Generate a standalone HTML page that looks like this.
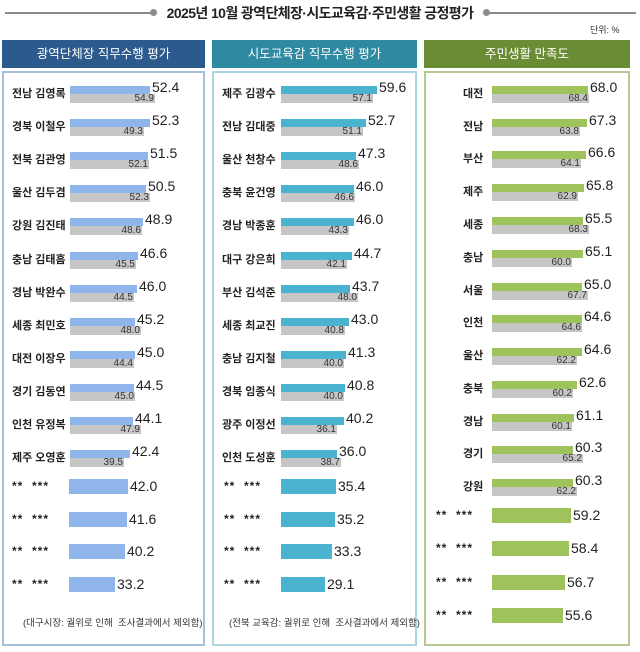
<!DOCTYPE html><html><head><meta charset="utf-8"><style>
body{margin:0;width:640px;height:652px;background:#fff;position:relative;overflow:hidden;font-family:"Liberation Sans","Noto Sans CJK KR",sans-serif;color:#222}
i{font-style:normal}
.a{position:absolute}
.hd{position:absolute;top:40px;height:28px;color:#fff;font-size:12.5px;line-height:28px;text-align:center}
.bx{position:absolute;top:71px;height:575px;border:2px solid;box-sizing:border-box}
.r{position:absolute;left:0;width:640px;height:20px}
.n{position:absolute;top:0;font-weight:bold;font-size:11px;line-height:16px;color:#222;white-space:nowrap}
.bw{position:absolute;top:0;display:flex;align-items:flex-start}
.b{display:block;height:8px}
.v{font-size:14px;line-height:14px;margin:-6px 0 0 2px}
.g{position:absolute;top:8px;height:9px;background:#c6c6c6;font-size:10px;line-height:10px;text-align:right;color:#333;box-sizing:border-box;padding-right:1px}
.L{background:#8fb5ea}.M{background:#4ab3cf}.R{background:#9dc35a}
.bb .b{height:15px}.bb .v{margin:0 0 0 2px;line-height:15px}
.bb .n{top:0;line-height:15px;font-size:12px;letter-spacing:1px}
.ft{position:absolute;top:615px;font-size:9.5px;color:#333;white-space:nowrap}
</style></head><body>
<div class="a" style="left:5px;top:12px;width:148px;height:2px;background:#8a8a8a"></div>
<div class="a" style="left:150px;top:9px;width:7px;height:7px;border-radius:50%;background:#8a8a8a"></div>
<div class="a" style="left:486px;top:12px;width:150px;height:2px;background:#8a8a8a"></div>
<div class="a" style="left:483px;top:9px;width:7px;height:7px;border-radius:50%;background:#8a8a8a"></div>
<div class="a" style="left:158px;top:3px;width:324px;text-align:center;font-size:14px;letter-spacing:-0.6px;white-space:nowrap;font-weight:bold;line-height:20px;color:#222">2025년 10월 광역단체장·시도교육감·주민생활 긍정평가</div>
<div class="a" style="left:590px;top:23px;font-size:9px;color:#333">단위: %</div>

<div class="hd" style="left:2px;width:203px;background:#2c5a8c">광역단체장 직무수행 평가</div>
<div class="hd" style="left:212px;width:205px;background:#2e8aa1">시도교육감 직무수행 평가</div>
<div class="hd" style="left:424px;width:206px;background:#6a8c35">주민생활 만족도</div>
<div class="bx" style="left:2px;width:203px;border-color:#a5bedb"></div>
<div class="bx" style="left:212px;width:205px;border-color:#acd6e0"></div>
<div class="bx" style="left:424px;width:206px;border-color:#b6c894"></div>

<!-- LEFT -->
<div class="r" style="top:86px"><span class="n" style="left:12px">전남 김영록</span><i class="g" style="left:70px;width:85px">54.9</i><div class="bw" style="left:70px"><i class="b L" style="width:80px"></i><span class="v">52.4</span></div></div>
<div class="r" style="top:119px"><span class="n" style="left:12px">경북 이철우</span><i class="g" style="left:70px;width:74px">49.3</i><div class="bw" style="left:70px"><i class="b L" style="width:80px"></i><span class="v">52.3</span></div></div>
<div class="r" style="top:152px"><span class="n" style="left:12px">전북 김관영</span><i class="g" style="left:70px;width:79px">52.1</i><div class="bw" style="left:70px"><i class="b L" style="width:78px"></i><span class="v">51.5</span></div></div>
<div class="r" style="top:185px"><span class="n" style="left:12px">울산 김두겸</span><i class="g" style="left:70px;width:80px">52.3</i><div class="bw" style="left:70px"><i class="b L" style="width:76px"></i><span class="v">50.5</span></div></div>
<div class="r" style="top:218px"><span class="n" style="left:12px">강원 김진태</span><i class="g" style="left:70px;width:72px">48.6</i><div class="bw" style="left:70px"><i class="b L" style="width:73px"></i><span class="v">48.9</span></div></div>
<div class="r" style="top:252px"><span class="n" style="left:12px">충남 김태흠</span><i class="g" style="left:70px;width:66px">45.5</i><div class="bw" style="left:70px"><i class="b L" style="width:68px"></i><span class="v">46.6</span></div></div>
<div class="r" style="top:285px"><span class="n" style="left:12px">경남 박완수</span><i class="g" style="left:70px;width:64px">44.5</i><div class="bw" style="left:70px"><i class="b L" style="width:67px"></i><span class="v">46.0</span></div></div>
<div class="r" style="top:318px"><span class="n" style="left:12px">세종 최민호</span><i class="g" style="left:70px;width:71px">48.0</i><div class="bw" style="left:70px"><i class="b L" style="width:65px"></i><span class="v">45.2</span></div></div>
<div class="r" style="top:351px"><span class="n" style="left:12px">대전 이장우</span><i class="g" style="left:70px;width:64px">44.4</i><div class="bw" style="left:70px"><i class="b L" style="width:65px"></i><span class="v">45.0</span></div></div>
<div class="r" style="top:384px"><span class="n" style="left:12px">경기 김동연</span><i class="g" style="left:70px;width:65px">45.0</i><div class="bw" style="left:70px"><i class="b L" style="width:64px"></i><span class="v">44.5</span></div></div>
<div class="r" style="top:417px"><span class="n" style="left:12px">인천 유정복</span><i class="g" style="left:70px;width:71px">47.9</i><div class="bw" style="left:70px"><i class="b L" style="width:63px"></i><span class="v">44.1</span></div></div>
<div class="r" style="top:450px"><span class="n" style="left:12px">제주 오영훈</span><i class="g" style="left:70px;width:54px">39.5</i><div class="bw" style="left:70px"><i class="b L" style="width:60px"></i><span class="v">42.4</span></div></div>
<div class="r bb" style="top:479px"><span class="n" style="left:12px">** &nbsp;***</span><div class="bw" style="left:69px"><i class="b L" style="width:59px"></i><span class="v">42.0</span></div></div>
<div class="r bb" style="top:512px"><span class="n" style="left:12px">** &nbsp;***</span><div class="bw" style="left:69px"><i class="b L" style="width:58px"></i><span class="v">41.6</span></div></div>
<div class="r bb" style="top:544px"><span class="n" style="left:12px">** &nbsp;***</span><div class="bw" style="left:69px"><i class="b L" style="width:56px"></i><span class="v">40.2</span></div></div>
<div class="r bb" style="top:577px"><span class="n" style="left:12px">** &nbsp;***</span><div class="bw" style="left:69px"><i class="b L" style="width:46px"></i><span class="v">33.2</span></div></div>
<div class="ft" style="left:23px">(대구시장: 궐위로 인해 &nbsp;조사결과에서 제외함)</div>

<!-- MID -->
<div class="r" style="top:86px"><span class="n" style="left:222px">제주 김광수</span><i class="g" style="left:281px;width:92px">57.1</i><div class="bw" style="left:281px"><i class="b M" style="width:96px"></i><span class="v">59.6</span></div></div>
<div class="r" style="top:119px"><span class="n" style="left:222px">전남 김대중</span><i class="g" style="left:281px;width:82px">51.1</i><div class="bw" style="left:281px"><i class="b M" style="width:85px"></i><span class="v">52.7</span></div></div>
<div class="r" style="top:152px"><span class="n" style="left:222px">울산 천창수</span><i class="g" style="left:281px;width:78px">48.6</i><div class="bw" style="left:281px"><i class="b M" style="width:75px"></i><span class="v">47.3</span></div></div>
<div class="r" style="top:185px"><span class="n" style="left:222px">충북 윤건영</span><i class="g" style="left:281px;width:74px">46.6</i><div class="bw" style="left:281px"><i class="b M" style="width:73px"></i><span class="v">46.0</span></div></div>
<div class="r" style="top:218px"><span class="n" style="left:222px">경남 박종훈</span><i class="g" style="left:281px;width:68px">43.3</i><div class="bw" style="left:281px"><i class="b M" style="width:73px"></i><span class="v">46.0</span></div></div>
<div class="r" style="top:252px"><span class="n" style="left:222px">대구 강은희</span><i class="g" style="left:281px;width:66px">42.1</i><div class="bw" style="left:281px"><i class="b M" style="width:71px"></i><span class="v">44.7</span></div></div>
<div class="r" style="top:285px"><span class="n" style="left:222px">부산 김석준</span><i class="g" style="left:281px;width:77px">48.0</i><div class="bw" style="left:281px"><i class="b M" style="width:69px"></i><span class="v">43.7</span></div></div>
<div class="r" style="top:318px"><span class="n" style="left:222px">세종 최교진</span><i class="g" style="left:281px;width:64px">40.8</i><div class="bw" style="left:281px"><i class="b M" style="width:68px"></i><span class="v">43.0</span></div></div>
<div class="r" style="top:351px"><span class="n" style="left:222px">충남 김지철</span><i class="g" style="left:281px;width:63px">40.0</i><div class="bw" style="left:281px"><i class="b M" style="width:65px"></i><span class="v">41.3</span></div></div>
<div class="r" style="top:384px"><span class="n" style="left:222px">경북 임종식</span><i class="g" style="left:281px;width:63px">40.0</i><div class="bw" style="left:281px"><i class="b M" style="width:64px"></i><span class="v">40.8</span></div></div>
<div class="r" style="top:417px"><span class="n" style="left:222px">광주 이정선</span><i class="g" style="left:281px;width:56px">36.1</i><div class="bw" style="left:281px"><i class="b M" style="width:63px"></i><span class="v">40.2</span></div></div>
<div class="r" style="top:450px"><span class="n" style="left:222px">인천 도성훈</span><i class="g" style="left:281px;width:60px">38.7</i><div class="bw" style="left:281px"><i class="b M" style="width:56px"></i><span class="v">36.0</span></div></div>
<div class="r bb" style="top:479px"><span class="n" style="left:224px">** &nbsp;***</span><div class="bw" style="left:281px"><i class="b M" style="width:55px"></i><span class="v">35.4</span></div></div>
<div class="r bb" style="top:512px"><span class="n" style="left:224px">** &nbsp;***</span><div class="bw" style="left:281px"><i class="b M" style="width:54px"></i><span class="v">35.2</span></div></div>
<div class="r bb" style="top:544px"><span class="n" style="left:224px">** &nbsp;***</span><div class="bw" style="left:281px"><i class="b M" style="width:51px"></i><span class="v">33.3</span></div></div>
<div class="r bb" style="top:577px"><span class="n" style="left:224px">** &nbsp;***</span><div class="bw" style="left:281px"><i class="b M" style="width:44px"></i><span class="v">29.1</span></div></div>
<div class="ft" style="left:229px">(전북 교육감: 궐위로 인해 &nbsp;조사결과에서 제외함)</div>

<!-- RIGHT -->
<div class="r" style="top:86px"><span class="n" style="left:463px">대전</span><i class="g" style="left:492px;width:97px">68.4</i><div class="bw" style="left:492px"><i class="b R" style="width:96px"></i><span class="v">68.0</span></div></div>
<div class="r" style="top:119px"><span class="n" style="left:463px">전남</span><i class="g" style="left:492px;width:88px">63.8</i><div class="bw" style="left:492px"><i class="b R" style="width:95px"></i><span class="v">67.3</span></div></div>
<div class="r" style="top:151px"><span class="n" style="left:463px">부산</span><i class="g" style="left:492px;width:89px">64.1</i><div class="bw" style="left:492px"><i class="b R" style="width:94px"></i><span class="v">66.6</span></div></div>
<div class="r" style="top:184px"><span class="n" style="left:463px">제주</span><i class="g" style="left:492px;width:86px">62.9</i><div class="bw" style="left:492px"><i class="b R" style="width:92px"></i><span class="v">65.8</span></div></div>
<div class="r" style="top:217px"><span class="n" style="left:463px">세종</span><i class="g" style="left:492px;width:97px">68.3</i><div class="bw" style="left:492px"><i class="b R" style="width:91px"></i><span class="v">65.5</span></div></div>
<div class="r" style="top:250px"><span class="n" style="left:463px">충남</span><i class="g" style="left:492px;width:80px">60.0</i><div class="bw" style="left:492px"><i class="b R" style="width:91px"></i><span class="v">65.1</span></div></div>
<div class="r" style="top:283px"><span class="n" style="left:463px">서울</span><i class="g" style="left:492px;width:96px">67.7</i><div class="bw" style="left:492px"><i class="b R" style="width:90px"></i><span class="v">65.0</span></div></div>
<div class="r" style="top:315px"><span class="n" style="left:463px">인천</span><i class="g" style="left:492px;width:90px">64.6</i><div class="bw" style="left:492px"><i class="b R" style="width:90px"></i><span class="v">64.6</span></div></div>
<div class="r" style="top:348px"><span class="n" style="left:463px">울산</span><i class="g" style="left:492px;width:85px">62.2</i><div class="bw" style="left:492px"><i class="b R" style="width:90px"></i><span class="v">64.6</span></div></div>
<div class="r" style="top:381px"><span class="n" style="left:463px">충북</span><i class="g" style="left:492px;width:81px">60.2</i><div class="bw" style="left:492px"><i class="b R" style="width:85px"></i><span class="v">62.6</span></div></div>
<div class="r" style="top:414px"><span class="n" style="left:463px">경남</span><i class="g" style="left:492px;width:80px">60.1</i><div class="bw" style="left:492px"><i class="b R" style="width:82px"></i><span class="v">61.1</span></div></div>
<div class="r" style="top:446px"><span class="n" style="left:463px">경기</span><i class="g" style="left:492px;width:91px">65.2</i><div class="bw" style="left:492px"><i class="b R" style="width:81px"></i><span class="v">60.3</span></div></div>
<div class="r" style="top:479px"><span class="n" style="left:463px">강원</span><i class="g" style="left:492px;width:85px">62.2</i><div class="bw" style="left:492px"><i class="b R" style="width:81px"></i><span class="v">60.3</span></div></div>
<div class="r bb" style="top:508px"><span class="n" style="left:436px">** &nbsp;***</span><div class="bw" style="left:492px"><i class="b R" style="width:79px"></i><span class="v">59.2</span></div></div>
<div class="r bb" style="top:541px"><span class="n" style="left:436px">** &nbsp;***</span><div class="bw" style="left:492px"><i class="b R" style="width:77px"></i><span class="v">58.4</span></div></div>
<div class="r bb" style="top:575px"><span class="n" style="left:436px">** &nbsp;***</span><div class="bw" style="left:492px"><i class="b R" style="width:73px"></i><span class="v">56.7</span></div></div>
<div class="r bb" style="top:608px"><span class="n" style="left:436px">** &nbsp;***</span><div class="bw" style="left:492px"><i class="b R" style="width:71px"></i><span class="v">55.6</span></div></div>
</body></html>
